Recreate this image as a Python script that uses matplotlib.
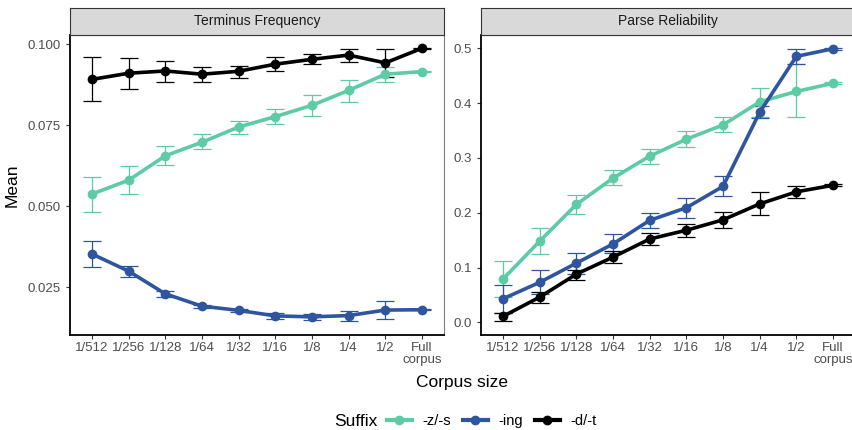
import matplotlib.pyplot as plt
from matplotlib.lines import Line2D
from matplotlib.ticker import FormatStrFormatter

plt.rcParams['font.family'] = ['Liberation Sans', 'DejaVu Sans']

# 데이터 ------------------------------------------------------------
sizes = ['1/512', '1/256', '1/128', '1/64', '1/32', '1/16', '1/8', '1/4', '1/2', 'Full\ncorpus']
suffixes = ['-z/-s', '-ing', '-d/-t']
colors = ['#5DCBA4', '#2F559E', '#000000']

# Terminus Frequency (mean, lower, upper)
tf_zs = [0.0537, 0.0580, 0.0655, 0.0697, 0.0744, 0.0776, 0.0811, 0.0857, 0.0907, 0.0915]
tf_zs_lo = [0.0481, 0.0537, 0.0626, 0.0675, 0.0722, 0.0753, 0.0779, 0.0822, 0.0882, 0.0913]
tf_zs_hi = [0.0590, 0.0624, 0.0685, 0.0721, 0.0763, 0.0799, 0.0843, 0.0889, 0.0930, 0.0917]

tf_ing = [0.0352, 0.0299, 0.0229, 0.0191, 0.0178, 0.0161, 0.0158, 0.0162, 0.0179, 0.0180]
tf_ing_lo = [0.0312, 0.0282, 0.0220, 0.0186, 0.0173, 0.0151, 0.0148, 0.0146, 0.0150, 0.0178]
tf_ing_hi = [0.0391, 0.0315, 0.0239, 0.0196, 0.0183, 0.0169, 0.0166, 0.0177, 0.0208, 0.0182]

tf_dt = [0.0891, 0.0910, 0.0917, 0.0907, 0.0916, 0.0938, 0.0953, 0.0966, 0.0942, 0.0987]
tf_dt_lo = [0.0824, 0.0860, 0.0882, 0.0884, 0.0896, 0.0916, 0.0938, 0.0945, 0.0897, 0.0985]
tf_dt_hi = [0.0959, 0.0958, 0.0948, 0.0930, 0.0932, 0.0961, 0.0970, 0.0985, 0.0985, 0.0989]

# Parse Reliability (mean, lower, upper)
pr_zs = [0.079, 0.148, 0.215, 0.263, 0.303, 0.334, 0.360, 0.402, 0.421, 0.436]
pr_zs_lo = [0.046, 0.124, 0.198, 0.250, 0.289, 0.320, 0.348, 0.375, 0.374, 0.434]
pr_zs_hi = [0.112, 0.172, 0.233, 0.278, 0.317, 0.349, 0.374, 0.427, 0.471, 0.438]

pr_ing = [0.043, 0.073, 0.108, 0.143, 0.186, 0.209, 0.248, 0.383, 0.485, 0.499]
pr_ing_lo = [0.018, 0.051, 0.089, 0.127, 0.172, 0.190, 0.230, 0.373, 0.471, 0.497]
pr_ing_hi = [0.068, 0.096, 0.127, 0.161, 0.200, 0.227, 0.266, 0.395, 0.498, 0.501]

pr_dt = [0.011, 0.046, 0.088, 0.119, 0.152, 0.168, 0.187, 0.216, 0.238, 0.250]
pr_dt_lo = [0.003, 0.036, 0.078, 0.108, 0.142, 0.156, 0.172, 0.195, 0.226, 0.248]
pr_dt_hi = [0.018, 0.055, 0.096, 0.130, 0.163, 0.180, 0.202, 0.237, 0.248, 0.252]

panels = [
    ('Terminus Frequency',
     [(tf_zs, tf_zs_lo, tf_zs_hi), (tf_ing, tf_ing_lo, tf_ing_hi), (tf_dt, tf_dt_lo, tf_dt_hi)],
     (0.0102, 0.1028), [0.025, 0.050, 0.075, 0.100], '%.3f'),
    ('Parse Reliability',
     [(pr_zs, pr_zs_lo, pr_zs_hi), (pr_ing, pr_ing_lo, pr_ing_hi), (pr_dt, pr_dt_lo, pr_dt_hi)],
     (-0.023, 0.524), [0.0, 0.1, 0.2, 0.3, 0.4, 0.5], '%.1f'),
]

# 그림 ------------------------------------------------------------
W, H = 853, 430
fig = plt.figure(figsize=(W / 100, H / 100), dpi=100)

lefts = [70, 481]
pw = 374
top, bottom, strip_h = 35, 335, 27
x = list(range(len(sizes)))

for (title, series, ylim, yticks, fmt), lx in zip(panels, lefts):
    ax = fig.add_axes([lx / W, (H - bottom) / H, pw / W, (bottom - top) / H])
    for (m, lo, hi), c in zip(series, colors):
        yerr = [[a - b for a, b in zip(m, lo)], [b - a for a, b in zip(m, hi)]]
        ax.errorbar(x, m, yerr=yerr, fmt='none', ecolor=c, elinewidth=0.9,
                    capsize=6.5, capthick=0.9, zorder=2)
        ax.plot(x, m, color=c, lw=2.6, marker='o', ms=6, zorder=3)
    ax.set_xlim(-0.6, 9.6)
    ax.set_ylim(*ylim)
    ax.set_xticks(x)
    ax.set_xticklabels(sizes, fontsize=9.5, color='#4D4D4D', linespacing=1.0)
    ax.set_yticks(yticks)
    ax.yaxis.set_major_formatter(FormatStrFormatter(fmt))
    ax.tick_params(axis='y', labelsize=9.5, labelcolor='#4D4D4D', length=3, color='#333333')
    ax.tick_params(axis='x', length=3, color='#333333', pad=2)
    for s in ['left', 'bottom']:
        ax.spines[s].set_color('black')
        ax.spines[s].set_linewidth(1.3)
    for s in ['top', 'right']:
        ax.spines[s].set_color('#7F7F7F')
        ax.spines[s].set_linewidth(0.8)

    # 패널 제목 띠
    sx = fig.add_axes([lx / W, (H - top) / H, pw / W, strip_h / H])
    sx.set_facecolor('#D9D9D9')
    sx.set_xticks([])
    sx.set_yticks([])
    for s in sx.spines.values():
        s.set_color('#333333')
        s.set_linewidth(0.8)
    sx.text(0.5, 0.5, title, ha='center', va='center', fontsize=10, color='#1A1A1A',
            transform=sx.transAxes)

fig.text(12 / W, (H - 185) / H, 'Mean', rotation=90, ha='center', va='center', fontsize=12.5)
fig.text(462 / W, (H - 383) / H, 'Corpus size', ha='center', va='center', fontsize=12.5)

# 범례
handles = [Line2D([0], [0], color=c, lw=3, marker='o', ms=6) for c in colors]
fig.text(334 / W, (H - 421) / H, 'Suffix', ha='left', va='center', fontsize=12.5)
fig.legend(handles, suffixes, loc='center left', bbox_to_anchor=(387 / W, (H - 421) / H),
           ncol=3, frameon=False, fontsize=10.5, handlelength=1.7, handletextpad=0.75,
           columnspacing=0.8, borderpad=0, borderaxespad=0)

plt.savefig('out.png', dpi=100)
